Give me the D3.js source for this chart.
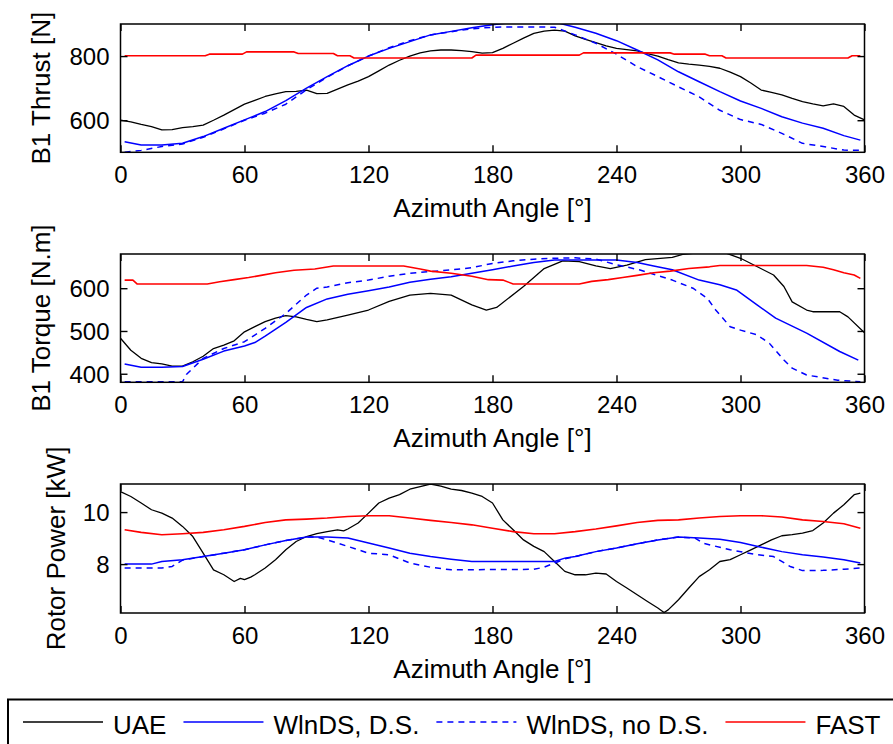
<!DOCTYPE html>
<html>
<head>
<meta charset="utf-8">
<script src="https://cdnjs.cloudflare.com/ajax/libs/d3/7.8.5/d3.min.js"></script>
<style>
  body { margin: 0; background: #fff; }
  svg text { font-family: "Liberation Sans", Arial, sans-serif; fill: #000; }
</style>
</head>
<body>
<svg id="chart" width="893" height="744"></svg>
<script>
// [azimuth deg, value]
const thrustUAE = [[0,600],[5,595],[10,587],[15,580],[20,570],[25,571],[30,577],[35,580],[40,585],[45,600],[50,616],[55,633],[60,650],[65,662],[70,674],[75,682],[80,689],[85,690],[90,694],[95,683],[100,684],[105,697],[110,710],[115,722],[120,736],[125,754],[130,772],[135,787],[140,800],[145,810],[150,816],[155,819],[160,819],[165,817],[170,814],[175,809],[180,811],[185,824],[190,840],[195,856],[200,871],[205,878],[210,881],[215,878],[220,863],[225,852],[230,842],[235,832],[240,824],[245,820],[250,816],[255,808],[260,800],[265,789],[270,779],[275,775],[280,772],[285,768],[290,762],[295,750],[300,736],[305,716],[310,694],[315,687],[320,679],[325,668],[330,658],[335,651],[340,645],[345,651],[350,643],[355,616],[360,601]];
const thrustDS = [[2,533],[10,523],[20,523],[30,528],[40,549],[50,575],[60,601],[70,627],[80,661],[90,700],[100,736],[110,770],[120,800],[130,824],[140,845],[150,866],[160,877],[170,888],[180,898],[190,905],[200,908],[210,906],[220,890],[230,871],[240,848],[250,819],[260,788],[270,751],[280,720],[290,689],[300,660],[310,637],[320,611],[330,591],[340,575],[350,552],[358,538]];
const thrustNoDS = [[2,500],[10,506],[20,518],[30,526],[40,547],[50,573],[60,600],[70,622],[80,650],[90,695],[100,734],[110,770],[120,800],[130,826],[140,848],[150,866],[160,876],[170,885],[180,890],[190,891],[200,891],[210,890],[220,866],[230,840],[240,806],[250,767],[260,736],[270,704],[280,673],[290,631],[300,602],[310,587],[320,559],[330,528],[340,518],[350,507],[358,506]];
const thrustFAST = [[2,801],[41,801],[43,806],[59,806],[61,813],[84,813],[86,808],[103,808],[105,801],[111,801],[113,794],[170,794],[172,803],[222,803],[224,810],[266,810],[268,806],[283,806],[285,801],[291,801],[293,794],[352,794],[354,801],[358,801]];

const torqueUAE = [[0,483],[5,455],[10,436],[15,426],[20,423],[25,418],[30,418],[35,428],[40,441],[45,459],[50,467],[55,477],[60,498],[65,510],[70,522],[75,530],[80,536],[85,533],[90,527],[95,522],[100,526],[110,537],[120,549],[130,569],[140,584],[150,588],[160,584],[170,561],[177,549],[182,555],[195,604],[205,646],[214,664],[222,662],[230,652],[237,646],[245,654],[254,667],[267,672],[272,679],[280,683],[293,682],[300,670],[316,631],[321,604],[325,568],[332,549],[335,545],[348,545],[352,533],[360,496]];
const torqueDS = [[2,423],[10,415],[20,415],[30,417],[40,434],[50,453],[60,465],[65,473],[70,488],[80,520],[90,555],[100,575],[110,586],[120,594],[130,603],[140,614],[150,621],[160,627],[170,635],[180,643],[190,652],[200,660],[210,666],[220,666],[230,666],[240,666],[250,660],[258,652],[267,643],[280,619],[290,608],[298,596],[308,561],[317,530],[332,495],[348,452],[357,432]];
const torqueNoDS = [[2,381],[30,381],[32,399],[40,436],[50,459],[60,475],[70,506],[80,541],[90,584],[95,600],[100,603],[110,613],[120,619],[130,628],[140,635],[150,639],[160,643],[170,648],[180,658],[190,664],[200,668],[210,670],[220,671],[230,668],[240,655],[251,643],[267,619],[277,600],[284,576],[288,549],[295,510],[300,502],[308,491],[314,471],[321,432],[325,413],[332,397],[347,385],[358,381]];
const torqueFAST = [[2,619],[6,619],[8,610],[42,610],[48,615],[55,620],[62,625],[68,630],[75,636],[84,642],[94,645],[103,652],[137,652],[145,645],[150,640],[160,635],[170,628],[178,620],[185,619],[190,610],[222,610],[228,616],[236,620],[243,625],[250,630],[258,636],[266,640],[275,646],[285,650],[290,653],[332,653],[340,649],[345,643],[350,636],[355,631],[358,623]];

const powerUAE = [[0,10.79],[5,10.6],[10,10.35],[15,10.09],[20,9.96],[25,9.77],[30,9.45],[35,9.06],[40,8.42],[45,7.78],[50,7.59],[55,7.33],[58,7.45],[60,7.4],[63,7.5],[65,7.59],[70,7.85],[75,8.17],[80,8.55],[85,8.87],[90,9.06],[95,9.17],[100,9.25],[105,9.32],[108,9.28],[110,9.35],[115,9.58],[120,9.96],[125,10.35],[130,10.54],[135,10.67],[140,10.88],[145,10.98],[150,11.08],[155,11.0],[160,10.88],[165,10.83],[170,10.73],[175,10.6],[180,10.35],[185,9.7],[190,9.32],[195,8.93],[200,8.68],[205,8.48],[210,8.1],[215,7.72],[220,7.59],[225,7.59],[230,7.65],[235,7.62],[240,7.33],[245,7.08],[250,6.82],[255,6.56],[260,6.31],[263,6.14],[265,6.24],[270,6.63],[275,7.08],[280,7.52],[285,7.78],[290,8.1],[295,8.17],[300,8.36],[305,8.55],[310,8.74],[315,8.93],[320,9.09],[325,9.13],[330,9.19],[335,9.29],[340,9.58],[345,9.96],[350,10.28],[355,10.67],[358,10.73]];
const powerDS = [[2,8.0],[15,8.0],[20,8.1],[30,8.17],[40,8.29],[50,8.42],[60,8.55],[70,8.74],[80,8.91],[90,9.04],[100,9.04],[110,9.0],[120,8.81],[130,8.62],[140,8.42],[150,8.29],[160,8.19],[170,8.1],[180,8.1],[210,8.1],[215,8.23],[220,8.29],[230,8.48],[240,8.62],[250,8.78],[260,8.93],[270,9.04],[280,9.0],[290,8.96],[300,8.83],[310,8.65],[320,8.48],[330,8.36],[340,8.27],[350,8.17],[358,8.04]];
const powerNoDS = [[2,7.85],[20,7.85],[25,7.91],[30,8.15],[40,8.29],[50,8.42],[60,8.55],[70,8.74],[80,8.91],[90,9.04],[95,9.04],[100,8.93],[110,8.68],[120,8.42],[130,8.36],[140,8.04],[150,7.88],[160,7.78],[200,7.8],[205,7.88],[210,8.04],[215,8.2],[220,8.29],[230,8.48],[240,8.62],[250,8.78],[260,8.93],[270,9.04],[278,9.0],[282,8.8],[295,8.55],[308,8.36],[316,8.29],[324,7.91],[330,7.75],[340,7.76],[350,7.8],[358,7.85]];
const powerFAST = [[2,9.32],[10,9.22],[20,9.13],[30,9.17],[40,9.22],[50,9.32],[60,9.45],[70,9.6],[80,9.7],[90,9.73],[100,9.77],[110,9.83],[120,9.86],[130,9.86],[140,9.77],[150,9.68],[160,9.6],[170,9.51],[180,9.38],[190,9.25],[200,9.17],[210,9.17],[220,9.25],[230,9.35],[240,9.47],[250,9.6],[260,9.68],[270,9.7],[280,9.77],[290,9.83],[300,9.86],[310,9.86],[320,9.81],[330,9.7],[340,9.64],[350,9.55],[358,9.38]];

const seriesNames = ["UAE", "WlnDS, D.S.", "WlnDS, no D.S.", "FAST"];
const seriesColors = ["#000000", "#0000ff", "#0000ff", "#ff0000"];
const seriesDash = [null, null, "6,5", null];
const seriesWidth = [1.3, 1.5, 1.5, 1.6];
const angleTicks = [0, 60, 120, 180, 240, 300, 360];

const panels = [
  { label: "B1 Thrust [N]", domain: [500, 900], ticks: [600, 800], top: 24, bottom: 152.3, labelX: 50,
    series: [thrustUAE, thrustDS, thrustNoDS, thrustFAST] },
  { label: "B1 Torque [N.m]", domain: [380, 680], ticks: [400, 500, 600], top: 254, bottom: 382.3, labelX: 50,
    series: [torqueUAE, torqueDS, torqueNoDS, torqueFAST] },
  { label: "Rotor Power [kW]", domain: [6.12, 11.08], ticks: [8, 10], top: 484, bottom: 613, labelX: 65,
    series: [powerUAE, powerDS, powerNoDS, powerFAST] }
];

const svg = d3.select("#chart");
const x = d3.scaleLinear().domain([0, 360]).range([120.5, 864.5]);
const tickFont = 24, labelFont = 26;

function styleAxis(sel) {
  sel.attr("font-family", null).attr("font-size", tickFont);
  sel.select(".domain").remove();
  sel.selectAll(".tick line").attr("stroke", "#000").attr("stroke-width", 1.4);
}

panels.forEach((p, i) => {
  const y = d3.scaleLinear().domain(p.domain).range([p.bottom, p.top]);
  const g = svg.append("g");

  g.append("clipPath").attr("id", "clip" + i)
    .append("rect")
    .attr("x", x(0)).attr("y", p.top)
    .attr("width", x(360) - x(0)).attr("height", p.bottom - p.top);

  const line = d3.line().x(d => x(d[0])).y(d => y(d[1]));
  const lines = g.append("g").attr("clip-path", "url(#clip" + i + ")");
  p.series.forEach((s, j) => {
    lines.append("path")
      .datum(s)
      .attr("d", line)
      .attr("fill", "none")
      .attr("stroke", seriesColors[j])
      .attr("stroke-width", seriesWidth[j])
      .attr("stroke-dasharray", seriesDash[j])
      .attr("stroke-linejoin", "round");
  });

  // ticks on all four sides, pointing inward (matlab style)
  const xb = g.append("g").attr("transform", `translate(0,${p.bottom})`)
    .call(d3.axisBottom(x).tickValues(angleTicks).tickSize(-7).tickSizeOuter(0))
    .call(styleAxis);
  xb.selectAll(".tick text").attr("y", 31).attr("dy", null);

  g.append("g").attr("transform", `translate(0,${p.top})`)
    .call(d3.axisTop(x).tickValues(angleTicks).tickSize(-7).tickSizeOuter(0).tickFormat(""))
    .call(styleAxis);

  const yl = g.append("g").attr("transform", `translate(${x(0)},0)`)
    .call(d3.axisLeft(y).tickValues(p.ticks).tickSize(-7).tickSizeOuter(0).tickFormat(d3.format("d")))
    .call(styleAxis);
  yl.selectAll(".tick text").attr("x", -11).attr("dy", "0.36em");

  g.append("g").attr("transform", `translate(${x(360)},0)`)
    .call(d3.axisRight(y).tickValues(p.ticks).tickSize(-7).tickSizeOuter(0).tickFormat(""))
    .call(styleAxis);

  g.append("rect")
    .attr("x", x(0)).attr("y", p.top)
    .attr("width", x(360) - x(0)).attr("height", p.bottom - p.top)
    .attr("fill", "none").attr("stroke", "#000").attr("stroke-width", 1.5);

  g.append("text")
    .attr("x", (x(0) + x(360)) / 2).attr("y", p.bottom + 65)
    .attr("text-anchor", "middle").attr("font-size", labelFont)
    .text("Azimuth Angle [°]");

  g.append("text")
    .attr("transform", `translate(${p.labelX},${(p.top + p.bottom) / 2}) rotate(-90)`)
    .attr("text-anchor", "middle").attr("font-size", labelFont)
    .text(p.label);
});

// legend
const legend = svg.append("g");
legend.append("rect")
  .attr("x", 8).attr("y", 699.5).attr("width", 900).attr("height", 60)
  .attr("fill", "#fff").attr("stroke", "#000").attr("stroke-width", 2);

let lx = 23;
seriesNames.forEach((name, j) => {
  legend.append("line")
    .attr("x1", lx).attr("x2", lx + 80).attr("y1", 722).attr("y2", 722)
    .attr("stroke", seriesColors[j]).attr("stroke-width", seriesWidth[j])
    .attr("stroke-dasharray", seriesDash[j]);
  const t = legend.append("text")
    .attr("x", lx + 90).attr("y", 734)
    .attr("font-size", 26)
    .text(name);
  lx += 90 + t.node().getComputedTextLength() + 17;
});
</script>
</body>
</html>
